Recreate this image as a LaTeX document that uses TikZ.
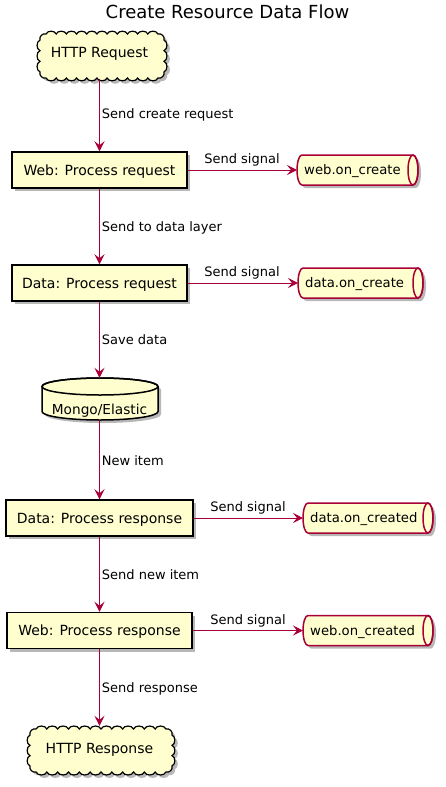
\documentclass[tikz,border=0pt]{standalone}
\usepackage{fontspec}
\setmainfont{DejaVu Sans}
\usetikzlibrary{arrows.meta,shadows}
\definecolor{boxfill}{HTML}{FEFECE}
\definecolor{arrowred}{HTML}{A80036}
\tikzset{
  shad/.style={drop shadow={shadow xshift=3pt,shadow yshift=-3pt,fill=black,opacity=0.28}},
  procbox/.style={draw=black,fill=boxfill,line width=1.5pt,minimum height=36,inner sep=0pt,
    text height=10.2pt,text depth=0pt,font=\fontsize{14}{16}\selectfont,shad},
  qbody/.style={draw=arrowred,fill=boxfill,line width=1.5pt,shad},
  qline/.style={draw=arrowred,line width=1.5pt},
  qtext/.style={anchor=west,inner xsep=7pt,inner ysep=0pt,minimum height=30,text height=9.8pt,
    text depth=0pt,font=\fontsize{13.2}{16}\selectfont},
  cloudbody/.style={draw=black,fill=boxfill,line width=1.2pt,shad},
  dbbody/.style={draw=black,fill=boxfill,line width=1.5pt,shad},
  plaintext/.style={inner sep=0pt,text height=10.2pt,text depth=0pt,font=\fontsize{14}{16}\selectfont},
  lbl/.style={inner sep=0pt,font=\fontsize{13}{15}\selectfont},
  ttl/.style={inner sep=0pt,font=\fontsize{18}{20}\selectfont},
  arr/.style={draw=arrowred,line width=1pt,-{Stealth[length=10pt,width=10pt,inset=4pt]}},
}
% #1 name, #2 left, #3 right, #4 centre y (pixels down), #5 text
\newcommand\queuebox[5]{%
  \path[qbody] (#2+5,-#4+15) -- (#3-5,-#4+15)
    arc[start angle=90,end angle=-90,x radius=5,y radius=15]
    -- (#2+5,-#4-15)
    arc[start angle=270,end angle=90,x radius=5,y radius=15] -- cycle;
  \draw[qline] (#3-5,-#4) ellipse[x radius=5,y radius=15];
  \node[qtext] (#1) at (#2,-#4) {#5};
}
% #1 left, #2 right, #3 top, #4 bottom, #5 bumps along top, #6 bumps along side
\newcommand\cloudbody[6]{%
  \pgfmathsetmacro\cloudcw{(#2-#1-12)/#5}%
  \pgfmathsetmacro\cloudch{(#4-#3-12)/#6}%
  \path[cloudbody] (#1+6,-#3)
    \foreach \k in {1,...,#5}{ to[bend left=70] ++(\cloudcw,0) }
    to[bend left=70] ++(6,-6)
    \foreach \k in {1,...,#6}{ to[bend left=70] ++(0,-\cloudch) }
    to[bend left=70] ++(-6,-6)
    \foreach \k in {1,...,#5}{ to[bend left=70] ++(-\cloudcw,0) }
    to[bend left=70] ++(-6,6)
    \foreach \k in {1,...,#6}{ to[bend left=70] ++(0,\cloudch) }
    to[bend left=70] (#1+6,-#3) -- cycle;
}
\begin{document}
\begin{tikzpicture}[x=1pt,y=1pt]
\path[use as bounding box] (0,0) rectangle (446,-787);

\node[ttl,anchor=base] (title) at (227.5,-18.3) {Create Resource Data Flow};

% HTTP request cloud
\cloudbody{40}{164}{34}{78}{11}{3}
\node[plaintext,minimum height=53.6,minimum width=110] (req) at (99.5,-52.2) {HTTP Request};

% process boxes
\node[procbox,minimum width=175] (wreq) at (99.5,-170) {Web: Process request};
\node[procbox,minimum width=175] (dreq) at (99.5,-283) {Data: Process request};

% database
\path[dbbody] (42,-386.5) -- (42,-411.5)
  arc[start angle=180,end angle=360,x radius=58,y radius=8.5]
  -- (158,-386.5)
  arc[start angle=0,end angle=180,x radius=58,y radius=8.5] -- cycle;
\draw[black,line width=1.5pt] (100,-386.5) ellipse[x radius=58,y radius=8.5];
\node[inner sep=0pt,minimum width=116,minimum height=42,text height=31.6pt,text depth=0pt,
  font=\fontsize{13.7}{16}\selectfont] (db) at (99.5,-399) {Mongo/Elastic};

\node[procbox,minimum width=187] (dres) at (99.5,-518) {Data: Process response};
\node[procbox,minimum width=185] (wres) at (99.5,-630.5) {Web: Process response};

% HTTP response cloud
\cloudbody{30}{172}{729}{772}{12}{3}
\node[plaintext,minimum height=45.4,minimum width=120] (resp) at (99.5,-748.7) {HTTP Response};

% queues
\queuebox{q1}{297}{418}{170}{web.on\_create}
\queuebox{q2}{298}{423}{283}{data.on\_create}
\queuebox{q3}{303}{433}{518}{data.on\_created}
\queuebox{q4}{303}{433}{630.5}{web.on\_created}

% vertical connectors
\draw[arr] (req.south) -- (wreq.north);
\draw[arr] (wreq.south) -- (dreq.north);
\draw[arr] (dreq.south) -- (db.north);
\draw[arr] (db.south) -- (dres.north);
\draw[arr] (dres.south) -- (wres.north);
\draw[arr] (wres.south) -- (resp.north);

% horizontal connectors
\draw[arr] (wreq.east) -- (q1.west);
\draw[arr] (dreq.east) -- (q2.west);
\draw[arr] (dres.east) -- (q3.west);
\draw[arr] (wres.east) -- (q4.west);

% labels
\node[lbl,anchor=base west] (l1) at (101.7,-118.3) {Send create request};
\node[lbl,anchor=base west] (l2) at (101.7,-231.3) {Send to data layer};
\node[lbl,anchor=base west] (l3) at (101.7,-344.3) {Save data};
\node[lbl,anchor=base west] (l4) at (101.7,-465.3) {New item};
\node[lbl,anchor=base west] (l5) at (101.7,-579.3) {Send new item};
\node[lbl,anchor=base west] (l6) at (101.7,-692.3) {Send response};

\node[lbl,anchor=base] (s1) at (242,-163.5) {Send signal};
\node[lbl,anchor=base] (s2) at (242,-276.5) {Send signal};
\node[lbl,anchor=base] (s3) at (248,-511) {Send signal};
\node[lbl,anchor=base] (s4) at (248,-624.5) {Send signal};
\end{tikzpicture}
\end{document}
